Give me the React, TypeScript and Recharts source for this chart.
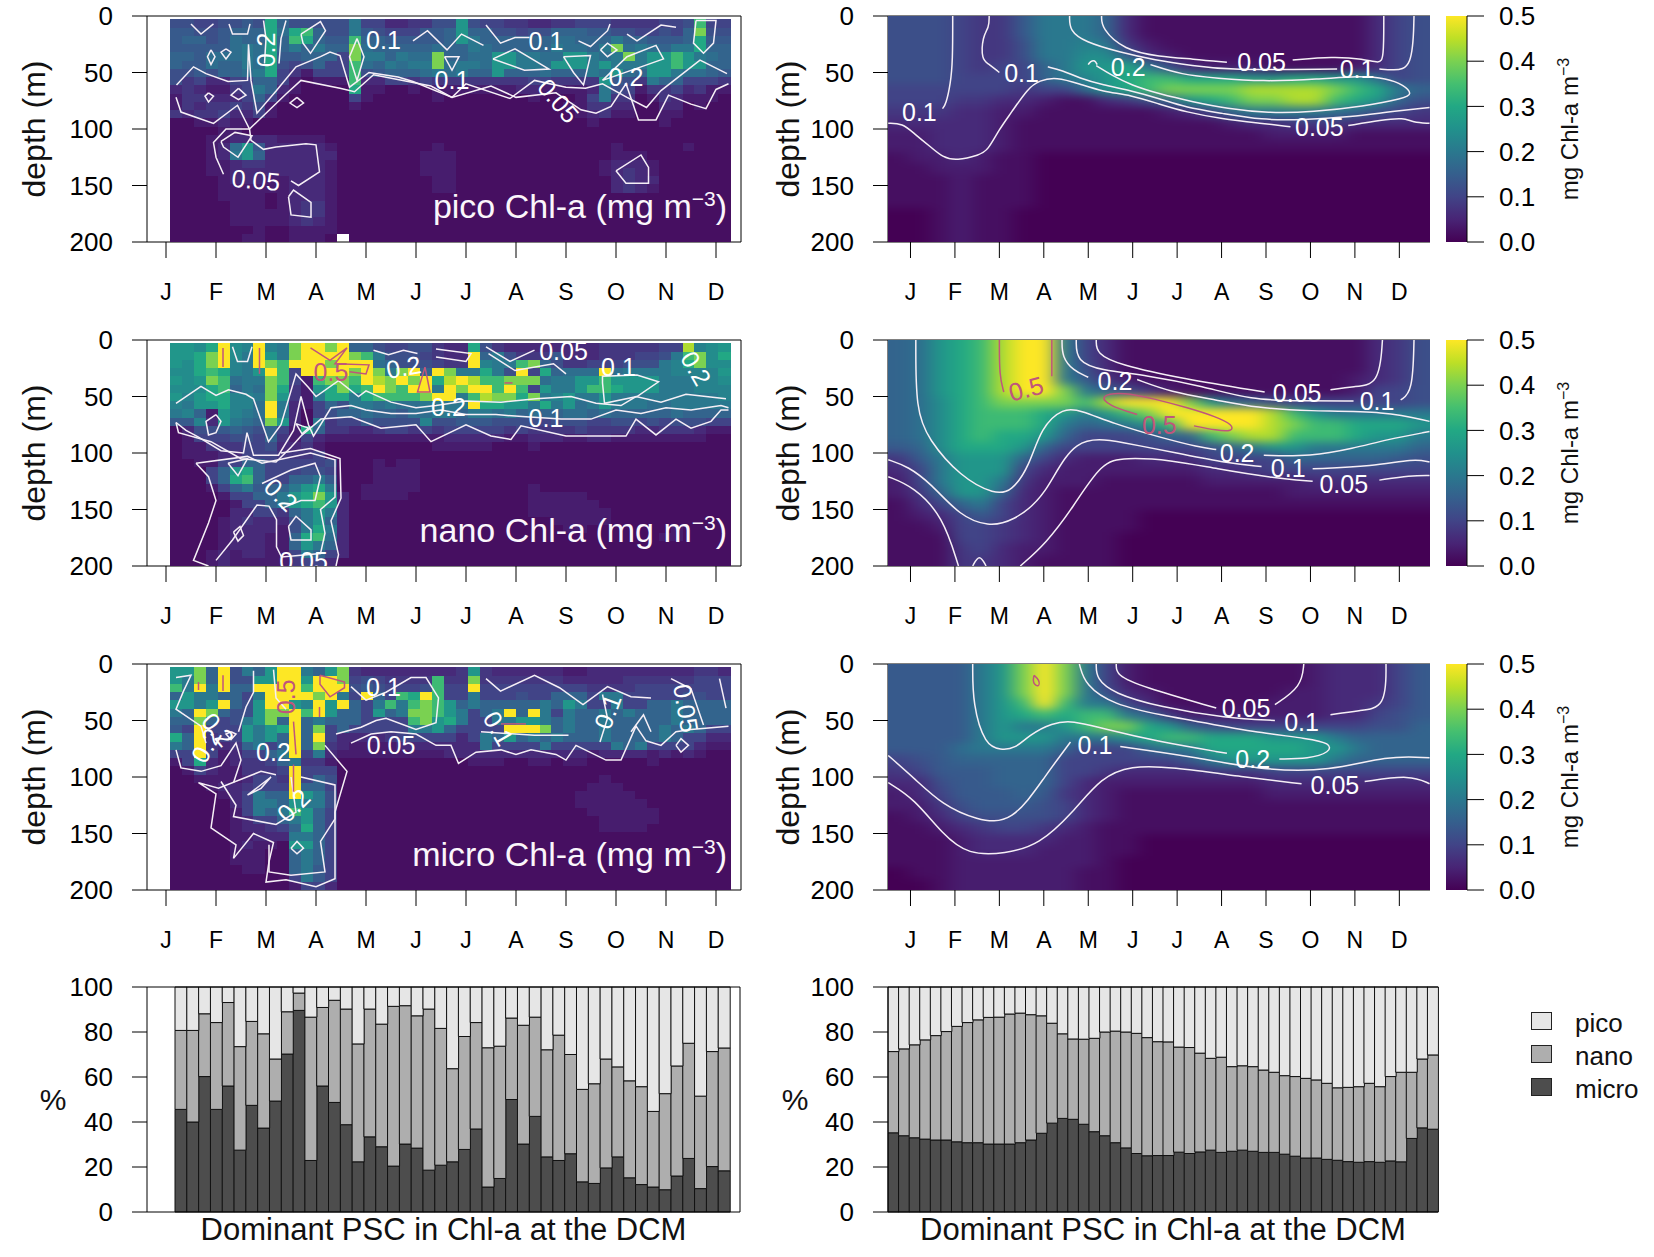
import { ScatterChart, Scatter, XAxis, YAxis, ReferenceLine, ReferenceArea, BarChart, Bar } from 'recharts';

type Pt = [number, number];
type Tag = [number, number, string, number?, boolean?];

const FONT = '"Liberation Sans", Arial, sans-serif';
const monthLetters = ['J', 'F', 'M', 'A', 'M', 'J', 'J', 'A', 'S', 'O', 'N', 'D'];
const monthTicks = [1, 2, 3, 4, 5, 6, 7, 8, 9, 10, 11, 12];
const depthTicks = [0, 50, 100, 150, 200];
const percentTicks = [0, 20, 40, 60, 80, 100];
const colorbarTicks = [0, 0.1, 0.2, 0.3, 0.4, 0.5];

// one char per cell: index in LEVELS x 0.02 mg m-3, "-" is a missing cell
const LEVELS = '0123456789abcdefghijklmnopqrstuvwxyz';

const picoObsRows = [
  '66556 676f8 66666 a5533 4466d 65544 33445 55444 4556h 55',
  '77667 888f9 fh866 a7655 5778d 88665 66888 77665 5658k 66',
  '78867 988f8 hf877 h8877 7778d a8888 88998 88a88 7778f 77',
  '77777 9a9f8 a8a88 k9888 88988 a9888 88a99 8ak9a 98aaf 88',
  '88799 9a9f7 78885 kaa8a 99k88 99dda a99dd a9aka ddhda 98',
  '87798 8a9f6 56855 h98a9 aak9a a9dda a9ddd adaaa ddhdd 88',
  '66768 89af5 42555 h6788 89a9a 88d88 89888 a9d98 dda99 87',
  '64533 55885 21222 h3355 45444 44444 55444 4d764 a8855 54',
  '34322 45a83 21111 f2211 21222 22223 32222 3a652 44534 22',
  '24433 35852 11111 52111 11211 11111 21112 5a441 24322 21',
  '24344 54621 11111 21111 11111 11111 11122 44331 13312 11',
  '43445 33521 11111 11111 11111 11111 11112 34221 12211 11',
  '11223 22111 11111 11111 11111 11111 11111 21111 12111 11',
  '11112 21111 11111 11111 11111 11111 11111 11111 11111 11',
  '11122 33332 22211 11111 11111 11111 11111 11111 11111 11',
  '11123 9d733 33321 11111 11211 11111 11111 11211 11121 11',
  '11123 ad833 33331 11111 12221 11111 11111 11222 11111 11',
  '11122 34433 33321 11111 12221 11111 11111 12333 21111 11',
  '11122 33333 33321 11111 12221 11111 11111 12343 21111 11',
  '11112 33322 33321 11111 11221 11111 11111 11343 31111 11',
  '11112 22222 33321 11111 11221 11111 11111 11343 21111 11',
  '11112 22212 33321 11111 11111 11111 11111 11111 11111 11',
  '11111 22212 34421 11111 11111 11111 11111 11111 11111 11',
  '11111 22222 34421 11111 11111 11111 11111 11111 11111 11',
  '11111 22222 34321 11111 11111 11111 11111 11111 11111 11',
  '11111 11211 22221 11111 11111 11111 11111 11111 11111 11',
  '11111 12211 2221- 11111 11111 11111 11111 11111 11111 11',
];

const nanoObsRows = [
  'ddcfp cbpba kppkp 88655 66433 f6433 33333 34444 455mb cd',
  'ddfkp capda kpppp kha66 65433 p8a64 44733 34445 56ahk cf',
  'dcfkp bapkh pppkp pp986 66544 pbaah k8644 55566 6abfk cc',
  'ccfhf badph 5pppp kpkak p8pka afa6p 5f899 9p9aa aabbb bd',
  'dcdkh 9aakh 52hkk hpmkp kpfmp mhhkk k9aad dhddd daaab bc',
  'cccfh 8a9kf 42dfk fhpkh ppapk pphph 5daad hhfdd daaab bb',
  'dbdff bbakd 42aff afhhh hkppa hmkkf kabda adaaa aaaaa ab',
  'baddf bb9pa 32586 aa9a9 9aaaa pffdd afad9 adaaa 99aaa aa',
  'ab82d ba9pa 31568 89887 99aa8 aa9a8 98899 89888 88988 88',
  '77b3d a98kd 31a45 57666 6b667 77666 65666 55665 65666 55',
  '13667 87685 2f844 33455 45455 55545 44445 44443 34443 22',
  '12555 66584 25322 22222 22233 33322 33322 33222 22222 11',
  '12244 45563 34211 11111 11222 22111 21111 11111 11111 11',
  '12223 35554 44511 11111 11111 11111 11111 11111 11111 11',
  '11225 58855 55561 11212 21111 11111 11111 11111 11111 11',
  '11158 df855 56651 11222 21111 11111 11111 11111 11111 11',
  '11158 fh855 88a71 11222 21111 11111 11111 11111 11111 11',
  '11125 8a788 adfa1 12222 21111 11111 21111 11111 11111 11',
  '11112 5588a dfkd3 12222 11111 11111 22222 11111 11111 11',
  '11111 2558a dfhd3 11111 11111 11111 22222 21111 11111 11',
  '11111 33554 8ada3 11111 11111 11111 22222 22111 11111 11',
  '11112 34333 6ad83 11111 11111 11111 11222 22111 11111 11',
  '11112 33332 6afa3 11111 11111 11111 11122 11111 11211 11',
  '11112 33322 8fh93 11111 11111 11111 11111 11111 12211 11',
  '11112 33322 8da83 11111 11111 11111 11111 11111 11111 11',
  '11123 23322 5a853 11111 11111 11111 11111 11111 11111 11',
  '11123 22222 45531 11111 11111 11111 11111 11111 11111 11',
];

const microObsRows = [
  'ddk8p 6a8dp pa8dk 43333 33334 d4333 33322 33333 33334 43',
  'dak8p 66ddp pdppk 56544 44h44 k4444 44433 33344 44445 55',
  'hapap 88ppp phppp 67655 56h55 p5555 55555 44445 55555 55',
  '8daa8 85app ppkpa 5p85h fph55 a5556 55888 5aa55 55566 55',
  'ddadp 86dpp dbpdp 85aha hkhd8 a8888 8a8da 55a55 88a88 88',
  'a8pk8 66dkk phpd8 85d8a kkhda 58ap8 pa5a8 8a8a8 88a88 88',
  '88k85 6adk8 p8a88 85555 hkdfa 55aad da8a8 8a888 88a88 88',
  '75p55 5dadf p8k58 55555 aad85 555pp pk8a8 8a888 8a8a8 55',
  'f8p45 5dad8 p8p53 33345 55553 5a8d8 a8a88 8a888 8a855 33',
  'a8p43 48a58 p8k43 22223 33333 3a555 5a555 55a8a 55553 22',
  '55p52 3558a p5a32 22222 22233 33333 33333 23333 23232 11',
  '25f32 34458 a4421 11111 11111 22211 22122 11111 21111 11',
  '12532 24445 p5551 11111 11111 11111 11111 11111 11111 11',
  '11222 23554 p5861 11111 11111 11111 11111 12111 11111 11',
  '11123 34555 p8851 11111 11111 11111 11111 22211 11111 11',
  '11112 35a88 pda61 11111 11111 11111 11112 22221 11111 11',
  '11111 35aa8 daa61 11111 11111 11111 11112 22222 11111 11',
  '11111 25a8a hd851 11111 11111 11111 11111 22222 21111 11',
  '11111 23558 ad851 11111 11111 11111 11111 12222 21111 11',
  '11111 23345 8f851 11111 11111 11111 11111 12222 11111 11',
  '11111 22333 aa851 11111 11111 11111 11111 11111 11111 11',
  '11111 23221 dd851 11111 11111 11111 11111 11111 11111 11',
  '11111 22211 8a851 11111 11111 11111 11111 11111 11111 11',
  '11111 22211 8a851 11111 11111 11111 11111 11111 11111 11',
  '11111 12211 8a751 11111 11111 11111 11111 11111 11111 11',
  '11111 11111 5a751 11111 11111 11111 11111 11111 11111 11',
  '11111 11111 25531 11111 11111 11111 11111 11111 11111 11',
];

const picoFitRows = [
  '66654 47aaa 83111 11111 11135 6',
  '66654 47aaa 83111 11111 11135 6',
  '66654 46aab a4211 11111 11135 6',
  '66654 46aac c7321 11111 11135 6',
  '66654 558ad dfa63 22211 11235 6',
  '66655 558ab dfhhf ffddf fdd95 6',
  '55555 54559 dfhkk kkmmm mkhfa 8',
  '55544 33211 3468d fhkkm mhfd8 6',
  '44433 22111 11123 58aaa a9865 4',
  '33333 21111 11111 12334 44333 3',
  '22333 21111 11111 11122 22111 1',
  '22333 21111 11111 11111 11111 1',
  '12232 11000 00000 00000 00000 0',
  '11222 11000 00000 00000 00000 0',
  '11121 11000 00000 00000 00000 0',
  '11121 11000 00000 00000 00000 0',
  '11121 11000 00000 00000 00000 0',
  '00121 10000 00000 00000 00000 0',
  '00121 10000 00000 00000 00000 0',
  '00121 10000 00000 00000 00000 0',
];

const nanoFitRows = [
  '89dfh mtta5 31111 11111 11134 6',
  '89dfh mtta5 31111 11111 11134 6',
  '89dfh mtta6 31111 11111 11134 6',
  '89dfh mtta7 42111 11111 11234 6',
  '89dfh mttka 86421 11111 11255 6',
  '89cfh kkkkh mttpk d9865 55555 6',
  '89cfh hhfda dhkpt ttpmh daaaa a',
  '89cfh hhfa8 9adhp ttpmk hhfff d',
  '89cfh ffd85 55688 hkmmh hhfdd a',
  '78cff fd855 55555 68add aaaaa 8',
  '47add d8532 22333 55558 88887 6',
  '35add d5322 22222 33455 55555 5',
  '25add a4222 11111 22222 33333 3',
  '248dd 83211 11111 11112 22222 2',
  '1358a 53211 11111 11111 11111 1',
  '12357 53211 11000 00000 00000 0',
  '11255 43211 11000 00000 00000 0',
  '11155 43211 10000 00000 00000 0',
  '11145 32211 10000 00000 00000 0',
  '11144 32111 10000 00000 00000 0',
];

const microFitRows = [
  '7777a dktka 52111 11111 23335 7',
  '7777a dktka 52111 11111 23335 7',
  '7777a dktka 63211 11112 23335 7',
  '7777a dhsha a5311 11122 23345 7',
  '7777a dfhfh ha842 22222 23356 7',
  '7777a daadh kkfd8 65555 55566 8',
  '7777a dddaa adfhh fffdd da888 8',
  '7779a aaa85 558aa fffff dda88 8',
  '56788 88855 55557 adddd da888 8',
  '45777 88855 43333 44455 55555 5',
  '33677 88853 22222 22233 33333 3',
  '23577 78743 21111 11122 22222 2',
  '22467 77653 21111 11111 11111 1',
  '12356 66653 21111 11111 11111 1',
  '11234 55432 11111 11111 11111 1',
  '11123 33322 11000 00000 00000 0',
  '11123 33222 11000 00000 00000 0',
  '11122 22222 10000 00000 00000 0',
  '01122 22221 10000 00000 00000 0',
  '00122 22221 10000 00000 00000 0',
];

// contours, each line as [month, depth] pairs
const picoObsLines: Pt[][] = [
  [[1.21, 61], [1.55, 45], [1.8, 51], [2.24, 58], [2.63, 57], [2.65, 25], [2.7, 57], [2.82, 86], [3.21, 66], [3.6, 45], [4.09, 36], [4.28, 32], [4.48, 35], [4.67, 63], [5.06, 50], [5.64, 54], [5.94, 58], [6.72, 72], [7.0, 60], [7.88, 73], [8.37, 57], [9.0, 63], [9.39, 64], [9.73, 60], [10.22, 72], [10.61, 81], [10.9, 66], [11.68, 39], [12.22, 51]],
  [[1.2, 72], [1.3, 85], [1.95, 95], [2.43, 79], [2.67, 100], [3.4, 69], [3.7, 57], [4.48, 64], [4.77, 67], [5.15, 52], [6.3, 62], [6.72, 72], [7.5, 62], [8.0, 72], [8.8, 68], [9.3, 83], [9.6, 86], [9.9, 80], [10.2, 60], [10.45, 92], [10.8, 92], [11.05, 70], [11.5, 78], [11.8, 82], [12.0, 65], [12.25, 60]],
  [[2.15, 140], [2.0, 125], [1.95, 112], [2.2, 100], [2.67, 100], [2.7, 110], [2.95, 118], [3.2, 116], [3.8, 113], [4.0, 114], [4.07, 138], [3.65, 150], [3.5, 146]],
  [[3.45, 160], [3.55, 154], [3.9, 165], [3.9, 178], [3.5, 176], [3.45, 160]],
  [[10, 137], [10.5, 123], [10.65, 134], [10.65, 148], [10.2, 148], [10, 137]],
  [[2.1, 111], [2.38, 103], [2.72, 106], [2.44, 125], [2.15, 116], [2.1, 111]],
  [[3.7, 16], [4.09, 5], [4.19, 13], [3.89, 33], [3.74, 24], [3.7, 16]],
  [[4.82, 20], [4.96, 36], [4.82, 57], [4.67, 36], [4.82, 20]],
  [[6.57, 36], [6.86, 36], [6.72, 48], [6.57, 36]],
  [[7.54, 38], [7.98, 29], [8.66, 47], [8.17, 48], [7.54, 38]],
  [[8.95, 36], [9.49, 35], [9.35, 61], [9.15, 50], [8.95, 36]],
  [[9.69, 30], [9.83, 24], [10.02, 30], [9.83, 36], [9.69, 30]],
  [[9.73, 57], [10.22, 36], [10.8, 26], [10.95, 38], [10.5, 45], [9.73, 57]],
  [[11.6, 4], [12, 4], [11.95, 24], [11.75, 33], [11.55, 24], [11.6, 4]],
  [[2.97, 42], [3.0, 20], [2.95, 4]],
  [[3.26, 42], [3.3, 20], [3.4, 4]],
  [[1.5, 7], [1.7, 16], [1.95, 7]],
  [[2.26, 7], [2.33, 16], [2.63, 16], [2.68, 7]],
  [[5.94, 22], [6.23, 13], [6.62, 30], [6.91, 16], [7.35, 26]],
  [[7.4, 8], [7.69, 24], [7.98, 19], [8.27, 19]],
  [[9.25, 22], [9.49, 27], [9.83, 13], [9.88, 7]],
  [[10.22, 16], [10.42, 22], [10.9, 8], [11.2, 10]],
  [[1.9, 30], [1.98, 36], [1.9, 43], [1.83, 36], [1.9, 30]],
  [[2.2, 29], [2.3, 32], [2.2, 38], [2.1, 32], [2.2, 29]],
  [[1.85, 68], [1.95, 71], [1.85, 76], [1.78, 71], [1.85, 68]],
  [[2.45, 64], [2.6, 70], [2.45, 74], [2.3, 70], [2.45, 64]],
  [[3.62, 72], [3.75, 77], [3.62, 81], [3.48, 77], [3.62, 72]],
];

const nanoObsLines: Pt[][] = [
  [[1.2, 56], [1.7, 41], [2.0, 49], [2.25, 44], [2.6, 48], [2.75, 52], [3.05, 90], [3.3, 75], [3.6, 30], [3.85, 42], [4.0, 50], [4.45, 36], [4.85, 50], [5.0, 45], [5.5, 55], [6.0, 60], [6.4, 58], [7.0, 54], [7.7, 55], [8.4, 52], [9.1, 50], [9.6, 56], [10.1, 58], [10.4, 50], [10.9, 55], [11.4, 48], [12.2, 52]],
  [[1.2, 73], [1.4, 80], [1.65, 86], [2.1, 98], [2.55, 100], [2.62, 82], [2.75, 102], [3.25, 102], [3.55, 80], [3.7, 50], [3.85, 75], [3.95, 85], [4.3, 60], [4.7, 58], [5.0, 62], [5.5, 65], [6.0, 65], [6.5, 62], [7.0, 66], [7.6, 66], [8.2, 68], [8.9, 70], [9.5, 70], [10.0, 62], [10.5, 65], [11, 60], [11.5, 62], [12.1, 58], [12.25, 60]],
  [[1.2, 73], [1.25, 82], [1.9, 90], [2.5, 105], [3.2, 108], [3.5, 95], [3.7, 85], [4.1, 70], [4.7, 68], [5.3, 78], [6.0, 75], [6.3, 90], [7, 75], [7.5, 85], [7.9, 88], [8.1, 76], [9, 85], [9.5, 85], [10.2, 85], [10.4, 70], [10.8, 84], [11.2, 70], [11.5, 78], [11.9, 72], [12.1, 62], [12.25, 62]],
  [[1.6, 109], [1.85, 121], [2, 142], [1.85, 162], [1.55, 195], [1.85, 200]],
  [[2, 195], [2.33, 177], [2.82, 146], [3.06, 147], [3.21, 159], [3.21, 183], [3.31, 192], [4.09, 189], [4.18, 171], [4.09, 150], [4.38, 139], [4.38, 106], [3.89, 100], [2.92, 109], [2.63, 103], [1.6, 109]],
  [[3.3, 100], [3.89, 96], [4.48, 105], [4.5, 140], [4.3, 160], [4.45, 190], [4.4, 200]],
  [[2.92, 127], [3.5, 115], [3.98, 109], [4.09, 121], [3.98, 142], [3.7, 142], [3.31, 149]],
  [[2.24, 109], [2.63, 105], [2.44, 120], [2.24, 109]],
  [[3.45, 165], [3.6, 156], [3.9, 168], [3.9, 177], [3.5, 177], [3.45, 165]],
  [[9.73, 38], [9.77, 56], [10.42, 50], [10.85, 37], [10.42, 31], [9.73, 32], [9.73, 38]],
  [[2.33, 6], [2.43, 19], [2.63, 19], [2.72, 6]],
  [[5.15, 9], [5.45, 13], [5.75, 9], [6.03, 12]],
  [[6.4, 15], [7, 19], [7.1, 12], [6.4, 8]],
  [[7.4, 6], [7.88, 19], [8.37, 9]],
  [[7.45, 12], [7.98, 27], [8.75, 21], [9, 30]],
  [[2.0, 66], [2.1, 72], [2.0, 82], [1.85, 84], [1.8, 72], [2.0, 66]],
  [[3.6, 74], [3.72, 76], [3.85, 78], [3.72, 83], [3.6, 74]],
  [[2.35, 170], [2.48, 165], [2.55, 173], [2.44, 178], [2.35, 170]],
];

const microObsLines: Pt[][] = [
  [[1.2, 76], [1.3, 92], [1.7, 95], [2.1, 90], [2.4, 70], [2.5, 85], [2.35, 105]],
  [[4.18, 72], [4.62, 95], [4.38, 131], [4.38, 166], [4.38, 190], [4, 197], [3.4, 191], [3, 193], [3.06, 175], [3.15, 158], [2.75, 150], [2.35, 172], [2.4, 160], [1.9, 145], [2, 115], [1.65, 105], [2.05, 110], [2.9, 95], [3.2, 98]],
  [[4.7, 70], [5.1, 62], [5.5, 60], [6, 62], [6.4, 72], [6.7, 72], [6.85, 88], [7.2, 78], [7.7, 76], [8.0, 80], [8.3, 76], [8.8, 80], [9, 85], [9.2, 72], [9.8, 85], [10.1, 85], [10.25, 70], [10.4, 55], [10.6, 68], [10.9, 72], [11.2, 60], [11.5, 58], [12.25, 55]],
  [[4.7, 20], [5.0, 32], [5.4, 25], [5.9, 12], [6.2, 12], [6.45, 30], [6.4, 52], [6, 58], [5.4, 48], [5.2, 50], [4.9, 56], [4.4, 62]],
  [[7.4, 13], [7.69, 24], [8.37, 10], [8.87, 21], [9.34, 36], [9.83, 20], [10.3, 29], [10.7, 30]],
  [[7.3, 60], [8.37, 63], [9.05, 63]],
  [[9.68, 69], [9.83, 48], [9.73, 27]],
  [[10.3, 60], [10.55, 45], [10.7, 60]],
  [[11.1, 13], [11.5, 22], [11.75, 54]],
  [[12.07, 13], [12.2, 39]],
  [[11.2, 72], [11.3, 66], [11.45, 72], [11.3, 78], [11.2, 72]],
  [[2.1, 104], [2.4, 125], [2.35, 135], [3.2, 142], [3.6, 131], [3.5, 100]],
  [[2.63, 116], [3.1, 100], [2.9, 110], [2.63, 116]],
  [[3.06, 160], [3.06, 184], [3.5, 187], [4.18, 184], [4.09, 157], [4.38, 137], [4.38, 107], [3.7, 100]],
  [[3.5, 163], [3.62, 157], [3.75, 163], [3.62, 168], [3.5, 163]],
  [[1.2, 12], [1.5, 10], [1.35, 24], [1.2, 40], [1.7, 55], [1.8, 70]],
  [[2.45, 60], [2.6, 38], [2.75, 25], [2.75, 6]],
  [[3.4, 40], [3.2, 30], [3.15, 5]],
  [[2.3, 60], [2.4, 62], [2.3, 67], [2.2, 62], [2.3, 60]],
];

const obsRoseNano: Pt[][] = [
  [[2.14, 7], [2.14, 24]],
  [[2.87, 7], [2.87, 30]],
  [[3.89, 7], [4.28, 18], [4.62, 7], [4.38, 21], [5.06, 22], [5.0, 30], [4.67, 28]],
  [[7.77, 38], [7.93, 38]],
  [[6.18, 24], [6.03, 46], [6.28, 46], [6.18, 24]],
];

const obsRoseMicro: Pt[][] = [
  [[2.14, 10], [2.14, 24]],
  [[1.65, 16], [1.65, 23]],
  [[4.08, 10], [4.57, 16], [4.57, 21], [4.28, 29], [4.08, 18], [4.08, 10]],
  [[3.55, 89], [3.55, 113]],
  [[4.07, 38], [4.07, 47]],
  [[3.55, 51], [3.6, 80]],
  [[7.7, 53], [8.2, 53]],
];

const picoFitLines: Pt[][] = [
  [[1.95, 0], [1.95, 40], [1.9, 60], [1.8, 78], [1.72, 82]],
  [[2.77, 0], [2.77, 10], [2.62, 18], [2.6, 39], [2.75, 42], [3.0, 50]],
  [[0.5, 95], [0.82, 95], [1.08, 104], [1.46, 116], [1.72, 125], [2.04, 128], [2.55, 123], [2.74, 119], [3, 100], [3.26, 86], [3.64, 64], [3.9, 57], [4.28, 54], [4.8, 60], [5.33, 67], [5.96, 70], [6.6, 78], [7.2, 85], [8, 91], [8.9, 95], [9.55, 98]],
  [[10.85, 97], [11.6, 92], [12.1, 90], [12.3, 94], [12.68, 95]],
  [[4.09, 45], [4.41, 48], [4.8, 55], [5.33, 61], [5.96, 66], [6.6, 73], [7.2, 81], [8, 86], [8.9, 92], [9.8, 92], [10.95, 89], [11.72, 85], [12.68, 81]],
  [[5.18, 44], [5.55, 53], [5.96, 61], [6.6, 69], [7.36, 76], [8.12, 82], [9.04, 86], [10.06, 85], [11.2, 80], [12.1, 73], [12.3, 69], [12.1, 61], [11.72, 55], [11.07, 53], [10.2, 56], [8.9, 58], [7.9, 55], [7.1, 52], [6.4, 43]],
  [[5.0, 43], [5.05, 40], [5.15, 39], [5.2, 43]],
  [[5.3, 0], [5.3, 11], [5.8, 30], [6.6, 36], [7.36, 38], [8.12, 41]],
  [[9.6, 39], [10.5, 36], [11.2, 38], [11.55, 42], [11.65, 38], [11.65, 0]],
  [[4.58, 0], [4.58, 13], [4.92, 23], [5.7, 32], [6.5, 39], [7.36, 44], [8.12, 48], [10.6, 47]],
  [[11.55, 47], [11.85, 48], [12.3, 47], [12.33, 0]],
];

const nanoFitLines: Pt[][] = [
  [[1.12, 0], [1.12, 62], [1.4, 88], [2.12, 121], [2.9, 137], [3.28, 134], [3.67, 112], [3.94, 77], [4.44, 60], [4.82, 62], [5.57, 74], [6.6, 86], [7.5, 95], [7.88, 97]],
  [[8.95, 102], [10, 103], [10.97, 96], [11.72, 88], [12.68, 81]],
  [[4.41, 0], [4.41, 15], [4.66, 27], [5, 33]],
  [[6.1, 35], [6.85, 46], [7.88, 53], [8.8, 60], [9.9, 63], [11.72, 63], [12.68, 72]],
  [[4.73, 0], [4.73, 19], [5.3, 27], [6.3, 31], [7.6, 41], [8.65, 53], [9.8, 54], [10.97, 54]],
  [[5.18, 0], [5.18, 12], [5.7, 22], [7.1, 34], [8.97, 46]],
  [[10.45, 44], [10.97, 41], [11.55, 40], [11.62, 0]],
  [[12.03, 53], [12.3, 46], [12.33, 0]],
  [[0.5, 106], [0.95, 112], [1.46, 127], [2.12, 156], [2.75, 165], [3.28, 161], [4.05, 139], [4.66, 83], [5.82, 91], [7, 100], [8.12, 109], [8.9, 112]],
  [[10.05, 114], [11.4, 112], [12.33, 105], [12.68, 108]],
  [[0.5, 121], [1.08, 130], [1.73, 156], [2.08, 200]],
  [[2.4, 200], [2.55, 189], [2.7, 200]],
  [[3.47, 200], [4.05, 180], [4.66, 148], [5.3, 108], [5.82, 104], [6.85, 106], [7.88, 114], [9.15, 122], [10.05, 125]],
  [[11.55, 124], [12.25, 120], [12.68, 120]],
];

const nanoFitRose: Pt[][] = [
  [[3, 0], [3, 32], [3.1, 46]],
  [[4.18, 0], [4.18, 32]],
  [[7.38, 76], [7.88, 80], [8.25, 81], [8.25, 75], [7.88, 68], [7.25, 60], [6.47, 52], [5.8, 46], [5.25, 49], [5.45, 58], [6.1, 66]],
];

const microFitLines: Pt[][] = [
  [[2.4, 0], [2.4, 36], [2.68, 72], [3.03, 76], [3.35, 75], [3.67, 63], [4.18, 52], [4.66, 50], [5.3, 57], [6.6, 69], [8.12, 79]],
  [[9.3, 84], [9.95, 84], [10.45, 78], [10.45, 70], [9.95, 66], [8.9, 61], [7.88, 54], [6.6, 45], [5.57, 36], [4.93, 19], [4.8, 0]],
  [[5.18, 0], [5.18, 13], [5.57, 26], [6.6, 38], [8.12, 48], [9.2, 50]],
  [[10.45, 45], [11.1, 41], [11.7, 39], [11.7, 0]],
  [[5.63, 0], [5.63, 10], [6.2, 20], [7.88, 39]],
  [[9.2, 36], [9.8, 20], [9.85, 0]],
  [[0.5, 81], [1.08, 101], [1.73, 125], [2.48, 138], [3.28, 142], [4.05, 98], [4.6, 69]],
  [[5.72, 73], [7.36, 82], [8.9, 94], [10.45, 95], [11.72, 81], [12.68, 83]],
  [[0.5, 105], [1.08, 119], [1.73, 151], [2.3, 169], [3.13, 168], [3.9, 160], [4.66, 131], [5.3, 100], [5.96, 90], [6.85, 91], [8.5, 100], [9.8, 106]],
  [[11.22, 104], [12.25, 98], [12.68, 106]],
];

const microFitRose: Pt[][] = [[[3.78, 10], [3.74, 17], [3.9, 21], [3.9, 14], [3.78, 10]]];

// [month, depth, text, rotation, rose]
const picoObsTags: Tag[] = [[3.0, 30, '0.2', -90], [5.35, 21, '0.1'], [6.72, 57, '0.1'], [8.6, 22, '0.1'], [8.85, 75, '0.05', 50], [10.2, 54, '0.2'], [2.8, 145, '0.05', 5]];
const nanoObsTags: Tag[] = [[4.3, 28, '0.5', 0, true], [5.75, 24, '0.2', -10], [6.65, 59, '0.2'], [8.6, 69, '0.1'], [8.95, 10, '0.05'], [10.05, 24, '0.1'], [11.6, 25, '0.2', 60], [3.3, 137, '0.2', 45], [3.75, 196, '0.05']];
const microObsTags: Tag[] = [[3.4, 29, '0.5', -90, true], [5.35, 20, '0.1'], [5.5, 72, '0.05'], [1.8, 72, '0.2', -60], [2.04, 58, '0.2', 50], [3.15, 78, '0.2'], [3.55, 125, '0.2', -45], [7.65, 57, '0.1', 60], [9.83, 42, '0.1', -70], [11.4, 39, '0.05', 80]];
const picoFitTags: Tag[] = [[1.2, 85, '0.1'], [3.5, 50, '0.1'], [5.9, 45, '0.2'], [8.9, 41, '0.05'], [11.05, 47, '0.1'], [10.2, 98, '0.05']];
const nanoFitTags: Tag[] = [[3.6, 43, '0.5', -15, true], [6.6, 75, '0.5', 0, true], [5.6, 36, '0.2'], [9.7, 47, '0.05'], [11.5, 54, '0.1'], [8.35, 100, '0.2'], [9.5, 113, '0.1'], [10.75, 127, '0.05']];
const microFitTags: Tag[] = [[8.55, 39, '0.05'], [9.8, 51, '0.1'], [5.15, 72, '0.1'], [8.7, 84, '0.2'], [10.55, 107, '0.05']];

const obsMicro = [45.6, 40, 60.2, 45.6, 56, 27.5, 47.4, 37.3, 49.3, 70.2, 89.6, 22.9, 56, 48.7, 38.8, 22.3, 33.4, 29, 20.4, 30.2, 28.4, 18.6, 20.8, 22.3, 27.8, 36.9, 11.1, 14.9, 50, 30.2, 42.5, 24.5, 22.9, 25.9, 13.4, 12.7, 19.6, 24.5, 15.2, 12.2, 11.1, 9.9, 16, 23.8, 10.4, 20.2, 18.3];
const obsNano = [35.1, 40.7, 27.9, 38.6, 37.1, 46, 37.3, 41.9, 18.7, 18.8, 7.7, 63.7, 34.9, 45.4, 51.4, 52.4, 56.8, 54.5, 71, 61.5, 58.8, 71.6, 60.8, 41.4, 50.2, 47.3, 61.9, 58.8, 36.2, 52.8, 44.1, 47.6, 55.7, 44.1, 41.1, 44.3, 48.4, 40, 43.1, 43.5, 33.6, 42.7, 48.9, 51.2, 41.1, 51.1, 54.6];
const obsPico = [19.3, 19.3, 11.9, 15.8, 6.9, 26.5, 15.3, 20.8, 32, 11, 2.7, 13.4, 9.1, 5.9, 9.8, 25.3, 9.8, 16.5, 8.6, 8.3, 12.8, 9.8, 18.4, 36.3, 22, 15.8, 27, 26.3, 13.8, 17, 13.4, 27.9, 21.4, 30, 45.5, 43, 32, 35.5, 41.7, 44.3, 55.3, 47.4, 35.1, 25, 48.5, 28.7, 27.1];

const fitMicro = [35.2, 33.9, 33, 32.4, 32, 32, 31.2, 30.8, 30.8, 30.2, 30.2, 30.2, 30.8, 32, 35, 39.5, 41.6, 41.2, 39, 35.7, 33.9, 30.8, 28.5, 26, 25, 25.1, 25.1, 26.6, 26, 26.7, 27.5, 26.5, 27, 27.5, 27, 26.5, 26.5, 25.7, 24.8, 24, 24, 23.4, 23, 22.4, 22.1, 22.4, 22.1, 22.7, 22.3, 32.7, 37.4, 36.8];
const fitNano = [36.1, 38.6, 41.3, 44.1, 46.4, 48.2, 51.3, 53.4, 54.6, 56.3, 56.4, 57.8, 57.6, 55.7, 52.2, 44.4, 37.6, 35.7, 37.8, 41.5, 46.1, 49.6, 51.5, 53.4, 52.5, 50.6, 50.5, 46.7, 47.1, 43.9, 40.8, 42.3, 37.6, 37.5, 37.6, 36.6, 35.6, 34.9, 35.4, 35.4, 34.7, 33.8, 32.2, 33, 33.6, 34.8, 33.6, 37.5, 39.8, 29.4, 30.6, 33];
const fitPico = [28.7, 27.5, 25.7, 23.5, 21.6, 19.8, 17.5, 15.8, 14.6, 13.5, 13.4, 12, 11.6, 12.3, 12.8, 16.1, 20.8, 23.1, 23.2, 22.8, 20, 19.6, 20, 20.6, 22.5, 24.3, 24.4, 26.7, 26.9, 29.4, 31.7, 31.2, 35.4, 35, 35.4, 36.9, 37.9, 39.4, 39.8, 40.6, 41.3, 42.8, 44.8, 44.6, 44.3, 42.8, 44.3, 39.8, 37.9, 37.9, 32, 30.2];

const VIRIDIS = ['#440154', '#482475', '#414487', '#355f8d', '#2a788e', '#21918c', '#22a884', '#44bf70', '#7ad151', '#bddf26', '#fde725'];

const viridis = (v: number) => {
  const t = Math.min(Math.max(v / 0.5, 0), 1) * 10;
  const i = Math.min(Math.floor(t), 9);
  const f = t - i;
  const a = VIRIDIS[i];
  const b = VIRIDIS[i + 1];
  const mix = (s: number) =>
    Math.round(parseInt(a.slice(s, s + 2), 16) * (1 - f) + parseInt(b.slice(s, s + 2), 16) * f);
  return `rgb(${mix(1)},${mix(3)},${mix(5)})`;
};

const NoDot = () => <g />;

const TagText = (p: any) => {
  const d = p.payload;
  return (
    <text
      x={p.cx}
      y={p.cy}
      transform={d.rot ? `rotate(${d.rot} ${p.cx} ${p.cy})` : undefined}
      textAnchor="middle"
      dominantBaseline="central"
      fontSize={25}
      fill={d.rose ? '#c0557c' : '#ffffff'}
    >
      {d.t}
    </text>
  );
};

const heatCells = (rows: string[], x0: number, dx: number, y0: number, dy: number) => {
  const out: any[] = [];
  rows.forEach((row, j) => {
    const chars = row.replace(/ /g, '');
    const nc = chars.length;
    chars.split('').forEach((c, i) => {
      if (c === '-') return;
      out.push({
        x: x0 + (i + 0.5) * dx,
        y: y0 + (j + 0.5) * dy,
        v: LEVELS.indexOf(c) * 0.02,
        l: i === 0,
        r: i === nc - 1,
        t: j === 0,
        b: j === rows.length - 1,
      });
    });
  });
  return out;
};

const cellShape = (w: number, h: number, pad: number) => (p: any) => {
  const d = p.payload;
  const left = p.cx - w / 2 - (d.l ? pad : 0);
  const top = p.cy - h / 2 - (d.t ? pad : 0);
  const wide = w + (d.l ? pad : 0) + (d.r ? pad : 0);
  const tall = h + (d.t ? pad : 0) + (d.b ? pad : 0);
  return <rect x={left} y={top} width={wide + 0.4} height={tall + 0.4} fill={viridis(d.v)} shapeRendering="crispEdges" />;
};

const lineData = (pts: Pt[]) => pts.map(([x, y]) => ({ x, y }));

interface HeatProps {
  left: number;
  top: number;
  chartW: number;
  axisW: number;
  plotW: number;
  xDomain: [number, number];
  cells: any[];
  shape: any;
  smooth?: boolean;
  lines: Pt[][];
  rose?: Pt[][];
  tags: Tag[];
  labelOffset: number;
  frame?: boolean;
}

function HeatPanel({ left, top, chartW, axisW, plotW, xDomain, cells, shape, smooth, lines, rose = [], tags, labelOffset, frame }: HeatProps) {
  const tagData = tags.map(([x, y, t, rot, isRose]) => ({ x, y, t, rot, rose: isRose }));
  const joint = smooth ? 'basis' : 'linear';
  return (
    <div style={{ position: 'absolute', left, top: top - 16 }}>
      <ScatterChart width={chartW} height={312} margin={{ top: 16, bottom: 0, left: 0, right: chartW - axisW - plotW }}>
        <XAxis
          type="number"
          dataKey="x"
          domain={xDomain}
          allowDataOverflow
          ticks={monthTicks}
          interval={0}
          tickFormatter={(v) => monthLetters[v - 1]}
          height={70}
          tickSize={16}
          tickMargin={26}
          stroke="#000"
          tick={{ fontSize: 23, fill: '#000' }}
        />
        <YAxis
          type="number"
          dataKey="y"
          reversed
          domain={[0, 200]}
          allowDataOverflow
          ticks={depthTicks}
          interval={0}
          width={axisW}
          tickSize={15}
          tickMargin={19}
          stroke="#000"
          tick={{ fontSize: 26, fill: '#000' }}
          label={{ value: 'depth (m)', angle: -90, position: 'insideLeft', offset: labelOffset, style: { textAnchor: 'middle', fontSize: 32, fill: '#111' } }}
        />
        {frame && <ReferenceLine x={xDomain[1]} stroke="#000" />}
        <ReferenceLine y={0} stroke="#000" />
        <Scatter className={smooth ? 'fit-heat' : undefined} data={cells} shape={shape} isAnimationActive={false} />
        {lines.map((pts, i) => (
          <Scatter key={i} data={lineData(pts)} line={{ stroke: '#f6eff6', strokeWidth: 1.5 }} lineJointType={joint} shape={NoDot} isAnimationActive={false} />
        ))}
        {rose.map((pts, i) => (
          <Scatter key={'r' + i} data={lineData(pts)} line={{ stroke: '#c0557c', strokeWidth: 1.5 }} lineJointType={joint} shape={NoDot} isAnimationActive={false} />
        ))}
        <Scatter data={tagData} shape={TagText} isAnimationActive={false} />
      </ScatterChart>
    </div>
  );
}

const colorbarPoints = colorbarTicks.map((y) => ({ x: 0.5, y }));

function Colorbar({ top }: { top: number }) {
  return (
    <div style={{ position: 'absolute', left: 1440, top: top - 16 }}>
      <ScatterChart width={214} height={258} margin={{ top: 16, bottom: 16, left: 6, right: 87 }}>
        <XAxis type="number" dataKey="x" domain={[0, 1]} hide />
        <YAxis
          type="number"
          dataKey="y"
          orientation="right"
          domain={[0, 0.5]}
          ticks={colorbarTicks}
          interval={0}
          tickFormatter={(v) => v.toFixed(1)}
          width={100}
          tickSize={17}
          tickMargin={15}
          stroke="#000"
          tick={{ fontSize: 26, fill: '#000', textAnchor: 'start' }}
        />
        <ReferenceArea x1={0} x2={1} y1={0} y2={0.5} fill="url(#viridisBar)" fillOpacity={1} stroke="none" />
        <Scatter data={colorbarPoints} shape={NoDot} isAnimationActive={false} />
      </ScatterChart>
    </div>
  );
}

const stackData = (micro: number[], nano: number[], pico: number[]) =>
  micro.map((m, i) => ({ week: i + 1, micro: m, nano: nano[i], pico: pico[i] }));

interface StackProps {
  left: number;
  chartW: number;
  axisW: number;
  plotW: number;
  pad: { left: number; right: number };
  data: any[];
  labelOffset: number;
  frame?: boolean;
}

function StackPanel({ left, chartW, axisW, plotW, pad, data, labelOffset, frame }: StackProps) {
  return (
    <div style={{ position: 'absolute', left, top: 971 }}>
      <BarChart
        width={chartW}
        height={286}
        data={data}
        barCategoryGap={0}
        margin={{ top: 16, bottom: 0, left: 0, right: chartW - axisW - plotW }}
      >
        <XAxis
          dataKey="week"
          padding={pad}
          tick={false}
          tickLine={false}
          height={45}
          stroke="#000"
          label={{ value: 'Dominant PSC in Chl-a at the DCM', position: 'insideTop', offset: 6, style: { fontSize: 31, fill: '#111' } }}
        />
        <YAxis
          domain={[0, 100]}
          ticks={percentTicks}
          interval={0}
          width={axisW}
          tickSize={15}
          tickMargin={19}
          stroke="#000"
          tick={{ fontSize: 26, fill: '#000' }}
          label={{ value: '%', position: 'insideLeft', offset: labelOffset, style: { textAnchor: 'middle', fontSize: 30, fill: '#111' } }}
        />
        {frame && <YAxis yAxisId="edge" orientation="right" width={1} tick={false} tickLine={false} stroke="#000" />}
        <ReferenceLine y={100} stroke="#000" />
        <Bar dataKey="micro" stackId="psc" fill="#4d4d4d" stroke="#111" strokeWidth={1} isAnimationActive={false} />
        <Bar dataKey="nano" stackId="psc" fill="#aeaeae" stroke="#111" strokeWidth={1} isAnimationActive={false} />
        <Bar dataKey="pico" stackId="psc" fill="#e6e6e6" stroke="#111" strokeWidth={1} isAnimationActive={false} />
      </BarChart>
    </div>
  );
}

const panelTops = [16, 340, 664];
const panelTitles = ['pico', 'nano', 'micro'];
const legendEntries = [
  { label: 'pico', fill: '#e6e6e6', top: 1012 },
  { label: 'nano', fill: '#aeaeae', top: 1045 },
  { label: 'micro', fill: '#4d4d4d', top: 1078 },
];

const obsX: [number, number] = [0.62, 12.5];
const fitX: [number, number] = [0.494, 12.69];
const obsDx = 0.2384;
const fitDx = (fitX[1] - fitX[0]) / 26;
const obsY0 = 3;
const obsDy = 7.3;

const obsPanels = [
  { rows: picoObsRows, lines: picoObsLines, rose: [], tags: picoObsTags },
  { rows: nanoObsRows, lines: nanoObsLines, rose: obsRoseNano, tags: nanoObsTags },
  { rows: microObsRows, lines: microObsLines, rose: obsRoseMicro, tags: microObsTags },
];
const fitPanels = [
  { rows: picoFitRows, lines: picoFitLines, rose: [], tags: picoFitTags },
  { rows: nanoFitRows, lines: nanoFitLines, rose: nanoFitRose, tags: nanoFitTags },
  { rows: microFitRows, lines: microFitLines, rose: microFitRose, tags: microFitTags },
];

export default function App() {
  return (
    <div style={{ position: 'fixed', left: 0, top: 0, width: 1654, height: 1257, background: '#fff', fontFamily: FONT, overflow: 'hidden' }}>
      <style>{`.fit-heat{filter:url(#fitBlur)}`}</style>
      <svg width={0} height={0} style={{ position: 'absolute' }}>
        <defs>
          <filter id="fitBlur" x="-10%" y="-10%" width="120%" height="120%" colorInterpolationFilters="sRGB">
            <feGaussianBlur stdDeviation="9 4" />
          </filter>
          <linearGradient id="viridisBar" x1="0" y1="1" x2="0" y2="0">
            {VIRIDIS.map((c, i) => (
              <stop key={c} offset={`${i * 10}%`} stopColor={c} />
            ))}
          </linearGradient>
        </defs>
      </svg>

      {obsPanels.map((p, k) => (
        <HeatPanel
          key={k}
          left={0}
          top={panelTops[k]}
          chartW={760}
          axisW={147}
          plotW={594}
          xDomain={obsX}
          cells={heatCells(p.rows, 1.08, obsDx, obsY0, obsDy)}
          shape={cellShape(11.92, 8.25, 0)}
          lines={p.lines}
          rose={p.rose}
          tags={p.tags}
          labelOffset={34}
          frame
        />
      ))}
      {fitPanels.map((p, k) => (
        <HeatPanel
          key={k}
          left={760}
          top={panelTops[k]}
          chartW={680}
          axisW={128}
          plotW={542}
          xDomain={fitX}
          cells={heatCells(p.rows, fitX[0], fitDx, 0, 10)}
          shape={cellShape(20.85, 11.3, 40)}
          smooth
          lines={p.lines}
          rose={p.rose}
          tags={p.tags}
          labelOffset={28}
        />
      ))}
      {panelTops.map((t) => (
        <Colorbar key={t} top={t} />
      ))}

      {panelTops.map((t, k) => (
        <div key={t} style={{ position: 'absolute', right: 1654 - 727, top: t + 170, fontSize: 34, color: '#fbf6fb', whiteSpace: 'nowrap', lineHeight: '40px' }}>
          {panelTitles[k]} Chl-a (mg m<sup style={{ fontSize: 21, lineHeight: 0 }}>−3</sup>)
        </div>
      ))}
      {panelTops.map((t) => (
        <div
          key={'u' + t}
          style={{ position: 'absolute', left: 1570, top: t + 113, fontSize: 24, whiteSpace: 'nowrap', color: '#111', transform: 'translate(-50%,-50%) rotate(-90deg)', lineHeight: '30px' }}
        >
          mg Chl-a m<sup style={{ fontSize: 16, lineHeight: 0 }}>−3</sup>
        </div>
      ))}

      <StackPanel
        left={0}
        chartW={760}
        axisW={147}
        plotW={594}
        pad={{ left: 28, right: 10 }}
        data={stackData(obsMicro, obsNano, obsPico)}
        labelOffset={53}
        frame
      />
      <StackPanel
        left={760}
        chartW={680}
        axisW={128}
        plotW={550}
        pad={{ left: 0, right: 0 }}
        data={stackData(fitMicro, fitNano, fitPico)}
        labelOffset={35}
      />

      {legendEntries.map((e) => (
        <div key={e.label}>
          <div style={{ position: 'absolute', left: 1531, top: e.top, width: 19, height: 16, background: e.fill, border: '1px solid #222' }} />
          <div style={{ position: 'absolute', left: 1575, top: e.top - 4, fontSize: 26, lineHeight: '30px', color: '#111' }}>{e.label}</div>
        </div>
      ))}
    </div>
  );
}
